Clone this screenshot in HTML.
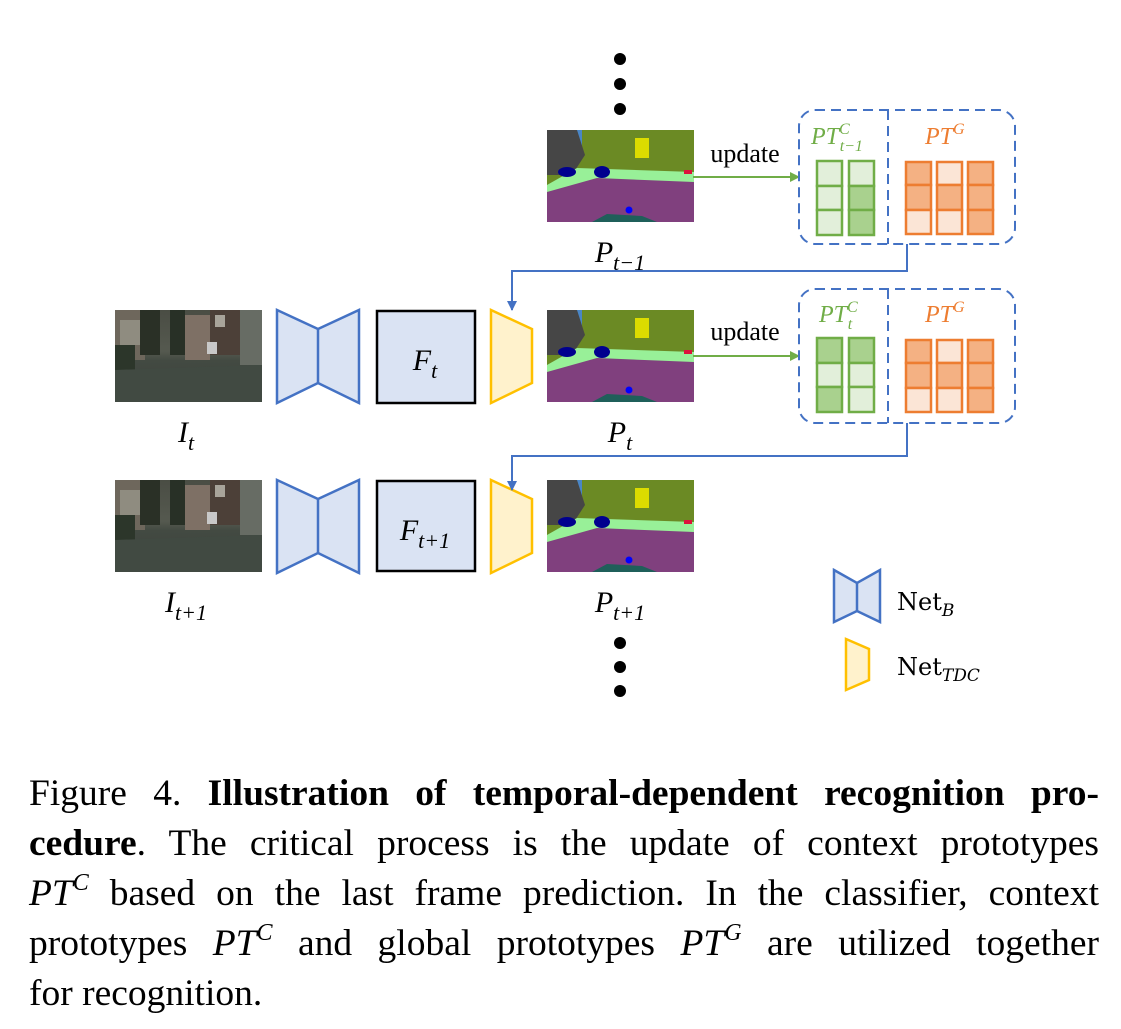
<!DOCTYPE html>
<html><head><meta charset="utf-8"><style>
body{margin:0;background:#fff;width:1121px;height:1029px;overflow:hidden;position:relative;font-family:"Liberation Serif",serif}
.cap{position:absolute;left:29px;width:1070px;font-size:37.5px;line-height:37px;text-align:justify;text-align-last:justify;color:#000;white-space:nowrap}
.cap.last{text-align-last:left}
i.m{font-style:italic}
sup{font-size:24px;font-style:italic;vertical-align:15px;line-height:0}
</style></head><body>
<svg width="1121" height="760" style="position:absolute;left:0;top:0" font-family="Liberation Serif, serif">
<defs>
<linearGradient id="ph" x1="0" y1="0" x2="0" y2="1"><stop offset="0" stop-color="#4a4d44"/><stop offset="0.45" stop-color="#55594f"/><stop offset="0.55" stop-color="#434a42"/><stop offset="1" stop-color="#3a413c"/></linearGradient>
<g id="photo">
<rect width="147" height="92" fill="url(#ph)"/>
<rect x="0" y="0" width="30" height="50" fill="#6e675c"/>
<rect x="5" y="10" width="22" height="25" fill="#8f8c80"/>
<rect x="25" y="0" width="20" height="45" fill="#2a3026"/>
<rect x="0" y="35" width="20" height="25" fill="#2c362a"/>
<rect x="55" y="0" width="15" height="45" fill="#283026"/>
<rect x="70" y="5" width="25" height="45" fill="#7e7065"/>
<rect x="95" y="0" width="30" height="45" fill="#4c4038"/>
<rect x="100" y="5" width="10" height="12" fill="#a8a49a"/>
<rect x="125" y="0" width="22" height="55" fill="#676c64"/>
<rect x="92" y="32" width="10" height="12" fill="#c8c8c8"/>
<polygon points="0,60 147,55 147,92 0,92" fill="#414a42"/>
</g>
<g id="seg">
<rect width="147" height="92" fill="#6b8a24"/>
<rect width="35" height="20" fill="#4a86c6"/>
<polygon points="0,0 30,0 38,25 25,45 0,45" fill="#464646"/>
<rect x="88" y="8" width="14" height="20" fill="#dcdc00"/>
<polygon points="0,55 30,38 147,42 147,65 110,70 60,72 20,80 0,85" fill="#98f098"/>
<polygon points="0,62 50,48 147,52 147,92 0,92" fill="#80407e"/>
<polygon points="0,72 30,60 147,60 147,92 0,92" fill="#80407e"/>
<polygon points="45,92 60,84 95,86 110,92" fill="#1f5f5a"/>
<ellipse cx="20" cy="42" rx="9" ry="5" fill="#00008e"/>
<ellipse cx="55" cy="42" rx="8" ry="6" fill="#00008e"/>
<circle cx="82" cy="80" r="3.5" fill="#0000ff"/>
<rect x="137" y="40" width="8" height="4" fill="#dc143c"/>
</g>
<g id="enc"><polygon points="0,0 41,19 82,0 82,93 41,73 0,93" fill="#dae3f3" stroke="#4472c4" stroke-width="2.5"/><line x1="41" y1="19" x2="41" y2="73" stroke="#4472c4" stroke-width="2.5"/></g>
<g id="dec"><polygon points="0,0 41,19 41,73 0,93" fill="#fff2cc" stroke="#ffc000" stroke-width="2.5"/></g>
<marker id="ab" viewBox="0 0 10 10" refX="9" refY="5" markerWidth="5" markerHeight="5" orient="auto"><path d="M0,0L10,5L0,10z" fill="#4472c4"/></marker>
<marker id="ag" viewBox="0 0 10 10" refX="9" refY="5" markerWidth="5" markerHeight="5" orient="auto"><path d="M0,0L10,5L0,10z" fill="#70ad47"/></marker>
</defs>
<g fill="#000"><circle cx="620" cy="59" r="6"/><circle cx="620" cy="84" r="6"/><circle cx="620" cy="109" r="6"/>
<circle cx="620" cy="643" r="6"/><circle cx="620" cy="667" r="6"/><circle cx="620" cy="691" r="6"/></g>
<use href="#seg" x="547" y="130"/><use href="#seg" x="547" y="310"/><use href="#seg" x="547" y="480"/>
<use href="#photo" x="115" y="310"/><use href="#photo" x="115" y="480"/>
<use href="#enc" x="277" y="310"/><use href="#enc" x="277" y="480"/>
<rect x="377" y="311" width="98" height="92" fill="#dae3f3" stroke="#000" stroke-width="2.5"/>
<rect x="377" y="481" width="98" height="90" fill="#dae3f3" stroke="#000" stroke-width="2.5"/>
<use href="#dec" x="491" y="310"/><use href="#dec" x="491" y="480"/>
<g font-style="italic" font-size="30" text-anchor="middle">
<text x="425" y="370">F<tspan font-size="22" dy="8">t</tspan></text>
<text x="425" y="540">F<tspan font-size="22" dy="8">t+1</tspan></text>
<text x="186" y="442">I<tspan font-size="22" dy="8">t</tspan></text>
<text x="186" y="612">I<tspan font-size="22" dy="8">t+1</tspan></text>
<text x="620" y="262">P<tspan font-size="22" dy="8">t−1</tspan></text>
<text x="620" y="442">P<tspan font-size="22" dy="8">t</tspan></text>
<text x="620" y="612">P<tspan font-size="22" dy="8">t+1</tspan></text>
</g>
<text x="745" y="162" font-size="26" text-anchor="middle">update</text>
<text x="745" y="340" font-size="26" text-anchor="middle">update</text>
<line x1="693" y1="177" x2="799" y2="177" stroke="#70ad47" stroke-width="2" marker-end="url(#ag)"/>
<line x1="693" y1="356" x2="799" y2="356" stroke="#70ad47" stroke-width="2" marker-end="url(#ag)"/>
<g fill="none" stroke="#4472c4" stroke-width="2" stroke-dasharray="10,6">
<rect x="799" y="110" width="216" height="134" rx="16"/><line x1="888" y1="110" x2="888" y2="244"/>
<rect x="799" y="289" width="216" height="134" rx="16"/><line x1="888" y1="289" x2="888" y2="423"/>
</g>
<polyline points="907,244 907,271 512,271 512,310" fill="none" stroke="#4472c4" stroke-width="2" marker-end="url(#ab)"/>
<polyline points="907,423 907,456 512,456 512,490" fill="none" stroke="#4472c4" stroke-width="2" marker-end="url(#ab)"/>
<g stroke="#70ad47" stroke-width="2.5">
<rect x="817" y="161" width="25" height="25" fill="#e2efda"/><rect x="817" y="186" width="25" height="24" fill="#e2efda"/><rect x="817" y="210" width="25" height="25" fill="#e2efda"/>
<rect x="849" y="161" width="25" height="25" fill="#e2efda"/><rect x="849" y="186" width="25" height="24" fill="#a9d18e"/><rect x="849" y="210" width="25" height="25" fill="#a9d18e"/>
<rect x="817" y="338" width="25" height="25" fill="#a9d18e"/><rect x="817" y="363" width="25" height="24" fill="#e2efda"/><rect x="817" y="387" width="25" height="25" fill="#a9d18e"/>
<rect x="849" y="338" width="25" height="25" fill="#a9d18e"/><rect x="849" y="363" width="25" height="24" fill="#e2efda"/><rect x="849" y="387" width="25" height="25" fill="#e2efda"/>
</g>
<g stroke="#ed7d31" stroke-width="2.5">
<rect x="906" y="162" width="25" height="23" fill="#f4b183"/><rect x="906" y="185" width="25" height="25" fill="#f4b183"/><rect x="906" y="210" width="25" height="24" fill="#fbe5d6"/>
<rect x="937" y="162" width="25" height="23" fill="#fbe5d6"/><rect x="937" y="185" width="25" height="25" fill="#f4b183"/><rect x="937" y="210" width="25" height="24" fill="#fbe5d6"/>
<rect x="968" y="162" width="25" height="23" fill="#f4b183"/><rect x="968" y="185" width="25" height="25" fill="#f4b183"/><rect x="968" y="210" width="25" height="24" fill="#f4b183"/>
<rect x="906" y="340" width="25" height="23" fill="#f4b183"/><rect x="906" y="363" width="25" height="25" fill="#f4b183"/><rect x="906" y="388" width="25" height="24" fill="#fbe5d6"/>
<rect x="937" y="340" width="25" height="23" fill="#fbe5d6"/><rect x="937" y="363" width="25" height="25" fill="#f4b183"/><rect x="937" y="388" width="25" height="24" fill="#fbe5d6"/>
<rect x="968" y="340" width="25" height="23" fill="#f4b183"/><rect x="968" y="363" width="25" height="25" fill="#f4b183"/><rect x="968" y="388" width="25" height="24" fill="#f4b183"/>
</g>
<g font-style="italic" font-size="24">
<text x="811" y="144" fill="#70ad47">PT<tspan font-size="16" dy="-10">C</tspan><tspan font-size="16" dx="-10" dy="17">t−1</tspan></text>
<text x="925" y="144" fill="#ed7d31">PT<tspan font-size="16" dy="-10">G</tspan></text>
<text x="819" y="322" fill="#70ad47">PT<tspan font-size="16" dy="-10">C</tspan><tspan font-size="16" dx="-10" dy="17">t</tspan></text>
<text x="925" y="322" fill="#ed7d31">PT<tspan font-size="16" dy="-10">G</tspan></text>
</g>
<polygon points="834,570 857,583 880,570 880,622 857,611 834,622" fill="#dae3f3" stroke="#4472c4" stroke-width="2.5"/>
<line x1="857" y1="583" x2="857" y2="611" stroke="#4472c4" stroke-width="2.5"/>
<polygon points="846,639 869,649 869,680 846,690" fill="#fff2cc" stroke="#ffc000" stroke-width="2.5"/>
<text x="897" y="610" font-size="24" font-family="DejaVu Serif, serif">Net<tspan font-size="17" font-style="italic" dy="6">B</tspan></text>
<text x="897" y="675" font-size="24" font-family="DejaVu Serif, serif">Net<tspan font-size="17" font-style="italic" dy="6">TDC</tspan></text>
</svg>
<div class="cap" style="top:775px">Figure 4. <b>Illustration of temporal-dependent recognition pro-</b></div>
<div class="cap" style="top:825px"><b>cedure</b>. The critical process is the update of context prototypes</div>
<div class="cap" style="top:875px"><i class="m">PT</i><sup>C</sup> based on the last frame prediction. In the classifier, context</div>
<div class="cap" style="top:925px">prototypes <i class="m">PT</i><sup>C</sup> and global prototypes <i class="m">PT</i><sup>G</sup> are utilized together</div>
<div class="cap last" style="top:975px">for recognition.</div>
</body></html>
